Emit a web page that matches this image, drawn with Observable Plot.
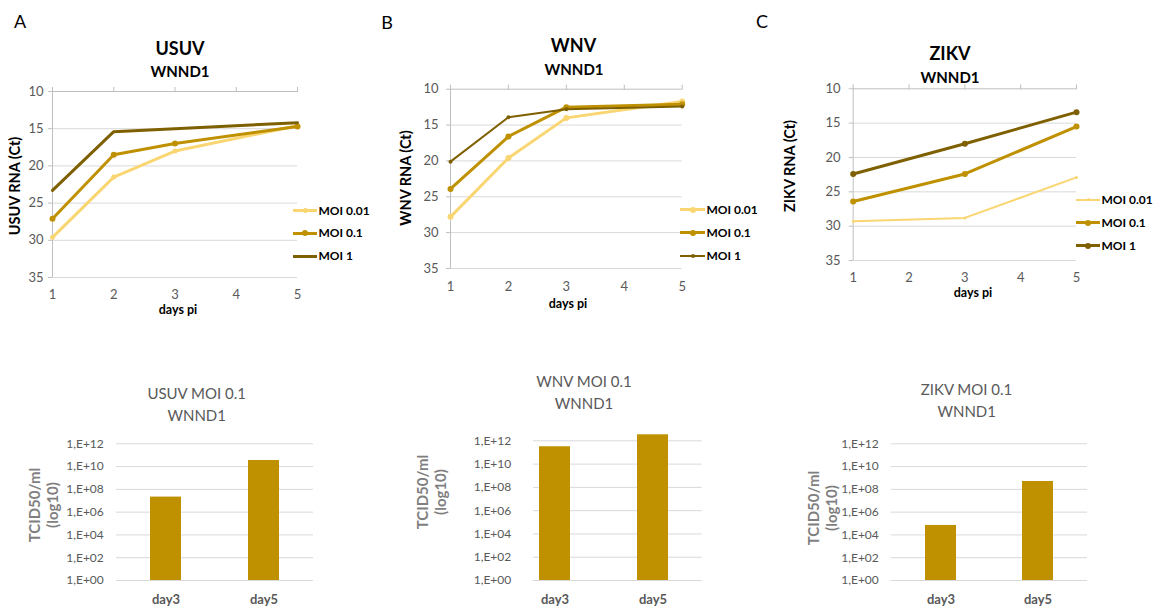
<!DOCTYPE html>
<html>
<head>
<meta charset="utf-8">
<script src="https://cdn.jsdelivr.net/npm/d3@7"></script>
<script src="https://cdn.jsdelivr.net/npm/@observablehq/plot@0.6"></script>
<style>
  html, body { margin: 0; padding: 0; background: #fff; }
  #fig { position: relative; width: 1157px; height: 612px; overflow: hidden; background: #fff;
         font-family: Lato, "Open Sans", "Liberation Sans", sans-serif; }
  #fig svg { position: absolute; }
  .t { position: absolute; white-space: nowrap; line-height: 1; text-align: center; }
  .lg { position: absolute; }
</style>
</head>
<body>
<div id="fig"></div>
<script>
// ---- data: RNA load (Ct) by days post infection ----
const DAY_TICKS = [1, 2, 3, 4, 5];
const CT_TICKS = [10, 15, 20, 25, 30, 35];
const MOI = ["MOI 0.01", "MOI 0.1", "MOI 1"];

const usuvDays = [1, 2, 3, 5];
const usuvMoi1Days = [1, 2, 5];
const usuvMoi001 = [29.6, 21.5, 18.0, 14.6];
const usuvMoi01 = [27.1, 18.5, 17.0, 14.7];
const usuvMoi1 = [23.3, 15.4, 14.2];

const wnvDays = [1, 2, 3, 5];
const wnvMoi001 = [27.8, 19.6, 14.0, 11.7];
const wnvMoi01 = [23.9, 16.6, 12.5, 12.1];
const wnvMoi1 = [20.1, 13.9, 12.8, 12.4];

const zikvDays = [1, 3, 5];
const zikvMoi001 = [29.3, 28.8, 22.9];
const zikvMoi01 = [26.4, 22.4, 15.5];
const zikvMoi1 = [22.4, 18.0, 13.4];

// ---- data: infectious titre (TCID50/ml) at MOI 0.1 ----
const titerDays = ["day3", "day5"];
const usuvTiter = [2.1e7, 3.4e10];
const wnvTiter = [3.1e11, 3.3e12];
const zikvTiter = [6.8e4, 4.9e8];
const TITER_TICKS = [1e0, 1e2, 1e4, 1e6, 1e8, 1e10, 1e12];

// ---- styling ----
const moiColor = { "MOI 0.01": "#F9D672", "MOI 0.1": "#BF9000", "MOI 1": "#7F6000" };
const FONT = 'Lato, "Open Sans", "Liberation Sans", sans-serif';
const GRID = "#d9d9d9";
const AXIS = "#bfbfbf";
const TICKTEXT = "#595959";

const fig = document.getElementById("fig");

function addText(html, x, y, { size = 12, weight = "normal", color = "#000", rotate = 0, lineHeight = 1 } = {}) {
  const d = document.createElement("div");
  d.className = "t";
  d.innerHTML = html;
  Object.assign(d.style, {
    left: x + "px", top: y + "px", fontSize: size + "px", fontWeight: weight, color,
    lineHeight: String(lineHeight),
    transform: `translate(-50%,-50%) rotate(${rotate}deg)`
  });
  fig.appendChild(d);
}

function addLegend(entries, x, ys, lineLen) {
  entries.forEach((e, i) => {
    const y = ys[i];
    const ln = document.createElement("div");
    ln.className = "lg";
    Object.assign(ln.style, {
      left: x + "px", top: (y - e.w / 2) + "px", width: lineLen + "px", height: e.w + "px",
      background: moiColor[e.moi]
    });
    fig.appendChild(ln);
    if (e.r > 0) {
      const m = document.createElement("div");
      m.className = "lg";
      Object.assign(m.style, {
        left: (x + lineLen / 2 - e.r) + "px", top: (y - e.r) + "px",
        width: 2 * e.r + "px", height: 2 * e.r + "px", borderRadius: "50%", background: moiColor[e.moi]
      });
      fig.appendChild(m);
    }
    const t = document.createElement("div");
    t.className = "t";
    t.textContent = e.moi;
    Object.assign(t.style, {
      left: (x + lineLen + 1.5) + "px", top: y + "px", fontSize: "12px", fontWeight: "bold",
      color: "#000", transform: "translate(0,-50%)", textAlign: "left"
    });
    fig.appendChild(t);
  });
}

function place(svg, left, top) {
  svg.style.left = left + "px";
  svg.style.top = top + "px";
  fig.appendChild(svg);
}

// Line chart of Ct over days, Ct axis reversed (lower Ct = more RNA)
function lineChart(p) {
  const rows = [];
  p.series.forEach(s => s.values.forEach((v, i) => rows.push({ moi: s.moi, day: s.days[i], ct: v })));
  const marks = [
    Plot.gridY({ ticks: CT_TICKS.slice(1), stroke: GRID, strokeOpacity: 1 }),
    Plot.ruleY([10], { stroke: AXIS }),
    Plot.ruleX([1], { stroke: AXIS }),
    Plot.axisX({ anchor: "top", ticks: DAY_TICKS, tickSize: 5, stroke: AXIS, strokeOpacity: 1, fill: "none", label: null }),
    Plot.axisX({ anchor: "bottom", ticks: DAY_TICKS, tickFormat: d => String(d), tickSize: 0, tickPadding: p.padX, fill: TICKTEXT, fontSize: 13, label: null }),
    Plot.axisY({ anchor: "left", ticks: CT_TICKS, tickFormat: d => String(d), tickSize: 4, tickPadding: p.padY, stroke: AXIS, strokeOpacity: 1, fill: TICKTEXT, fontSize: 13, label: null })
  ];
  p.series.forEach(s => {
    const data = rows.filter(d => d.moi === s.moi);
    marks.push(Plot.line(data, { x: "day", y: "ct", stroke: moiColor[s.moi], strokeWidth: s.w, strokeLinejoin: "round", strokeLinecap: "round" }));
    if (s.r > 0) marks.push(Plot.dot(data, { x: "day", y: "ct", r: s.r, fill: moiColor[s.moi], stroke: "none" }));
  });
  const svg = Plot.plot({
    width: p.width, height: p.height,
    marginLeft: p.m[0], marginRight: p.m[1], marginTop: p.m[2], marginBottom: p.m[3],
    x: { type: "linear", domain: [1, 5] },
    y: { type: "linear", domain: [10, 35], reverse: true },
    style: { fontFamily: FONT, fontSize: "13px", background: "transparent", overflow: "visible" },
    marks
  });
  place(svg, p.left, p.top);
}

// Bar chart of titres on a log axis
function barChart(p) {
  const rows = titerDays.map((d, i) => ({ day: d, titer: p.values[i] }));
  const svg = Plot.plot({
    width: p.width, height: p.height,
    marginLeft: p.m[0], marginRight: p.m[1], marginTop: p.m[2], marginBottom: p.m[3],
    x: { type: "band", domain: titerDays, paddingInner: p.pi, paddingOuter: p.po, align: p.align },
    y: { type: "log", domain: [1, p.yMax] },
    style: { fontFamily: FONT, fontSize: "12px", background: "transparent", overflow: "visible" },
    marks: [
      Plot.gridY({ ticks: TITER_TICKS, stroke: GRID, strokeOpacity: 1 }),
      Plot.barY(rows, { x: "day", y1: 1, y2: "titer", fill: "#BF9000" }),
      Plot.axisY({
        ticks: TITER_TICKS, tickSize: 0, tickPadding: p.padY, fill: TICKTEXT, fontSize: 12, label: null,
        tickFormat: d => "1,E+" + String(Math.round(Math.log10(d))).padStart(2, "0")
      }),
      Plot.axisX({ tickSize: 0, tickPadding: 14, fill: TICKTEXT, fontSize: 13, fontWeight: "bold", label: null })
    ]
  });
  place(svg, p.left, p.top);
}

// ---- panel A: USUV ----
lineChart({
  left: 0, top: 0, width: 380, height: 320, m: [52, 83, 91, 43], padX: 12, padY: 5,
  series: [
    { moi: MOI[0], days: usuvDays, values: usuvMoi001, w: 3, r: 2.5 },
    { moi: MOI[1], days: usuvDays, values: usuvMoi01, w: 3, r: 3 },
    { moi: MOI[2], days: usuvMoi1Days, values: usuvMoi1, w: 3, r: 0 }
  ]
});
addLegend([{ moi: MOI[0], w: 3, r: 2.5 }, { moi: MOI[1], w: 3, r: 3 }, { moi: MOI[2], w: 3, r: 0 }], 293, [210.5, 233, 256], 24);
addText("A", 20, 20.5, { size: 18 });
addText("USUV", 180, 47.5, { size: 18, weight: "bold" });
addText("WNND1", 180, 71, { size: 15, weight: "bold" });
addText("USUV RNA (Ct)", 14.7, 186, { size: 14.5, weight: "bold", rotate: -90 });
addText("days pi", 178, 310, { size: 12.5, weight: "bold" });

// ---- panel B: WNV ----
lineChart({
  left: 380, top: 0, width: 390, height: 320, m: [70, 88.3, 88.7, 52], padX: 12.8, padY: 8,
  series: [
    { moi: MOI[0], days: wnvDays, values: wnvMoi001, w: 3, r: 3 },
    { moi: MOI[1], days: wnvDays, values: wnvMoi01, w: 3, r: 3 },
    { moi: MOI[2], days: wnvDays, values: wnvMoi1, w: 2, r: 2 }
  ]
});
addLegend([{ moi: MOI[0], w: 3, r: 3 }, { moi: MOI[1], w: 3, r: 3 }, { moi: MOI[2], w: 2, r: 2 }], 680, [209.5, 232.5, 256], 25);
addText("B", 387, 21.5, { size: 18 });
addText("WNV", 573.5, 45, { size: 18, weight: "bold" });
addText("WNND1", 574, 69.2, { size: 15, weight: "bold" });
addText("WNV RNA (Ct)", 405.5, 178, { size: 14.5, weight: "bold", rotate: -90 });
addText("days pi", 568, 303.5, { size: 12.5, weight: "bold" });

// ---- panel C: ZIKV ----
lineChart({
  left: 760, top: 0, width: 397, height: 320, m: [92.7, 81, 88.3, 60], padX: 12.5, padY: 8.7,
  series: [
    { moi: MOI[0], days: zikvDays, values: zikvMoi001, w: 2, r: 1.5 },
    { moi: MOI[1], days: zikvDays, values: zikvMoi01, w: 3, r: 3 },
    { moi: MOI[2], days: zikvDays, values: zikvMoi1, w: 3, r: 3 }
  ]
});
addLegend([{ moi: MOI[0], w: 2, r: 1.5 }, { moi: MOI[1], w: 3, r: 3 }, { moi: MOI[2], w: 3, r: 3 }], 1076, [199.5, 222.5, 245.7], 24);
addText("C", 762, 21, { size: 18 });
addText("ZIKV", 950, 53.3, { size: 18, weight: "bold" });
addText("WNND1", 950, 76.7, { size: 15, weight: "bold" });
addText("ZIKV RNA (Ct)", 789.5, 166, { size: 14.5, weight: "bold", rotate: -90 });
addText("days pi", 973, 293, { size: 12.5, weight: "bold" });

// ---- titre bar charts ----
barChart({ left: 0, top: 360, width: 380, height: 252, m: [116, 67, 83.3, 32], values: usuvTiter, yMax: 1e12, pi: 0.68, po: 0.345, align: 0.5, padY: 12.7 });
addText("USUV MOI 0.1", 196.7, 393.3, { size: 15, color: TICKTEXT });
addText("WNND1", 196.7, 415, { size: 15, color: TICKTEXT });
addText("TCID50/ml<br>(log10)", 42.5, 505, { size: 15, weight: "bold", color: "#7f7f7f", rotate: -90, lineHeight: 1.2 });

barChart({ left: 380, top: 360, width: 390, height: 252, m: [153, 68.3, 68.7, 32], values: wnvTiter, yMax: 1e13, pi: 0.684, po: 0.2, align: 0.144, padY: 22.3 });
addText("WNV MOI 0.1", 584, 380.8, { size: 15, color: TICKTEXT });
addText("WNND1", 584, 402.5, { size: 15, color: TICKTEXT });
addText("TCID50/ml<br>(log10)", 431, 492, { size: 15, weight: "bold", color: "#7f7f7f", rotate: -90, lineHeight: 1.2 });

barChart({ left: 760, top: 360, width: 397, height: 252, m: [130.7, 70, 83.3, 32], values: zikvTiter, yMax: 1e12, pi: 0.68, po: 0.345, align: 0.5, padY: 12.4 });
addText("ZIKV MOI 0.1", 966.5, 389.2, { size: 15, color: TICKTEXT });
addText("WNND1", 966.7, 410.8, { size: 15, color: TICKTEXT });
addText("TCID50/ml<br>(log10)", 822, 508, { size: 15, weight: "bold", color: "#7f7f7f", rotate: -90, lineHeight: 1.2 });
</script>
</body>
</html>
